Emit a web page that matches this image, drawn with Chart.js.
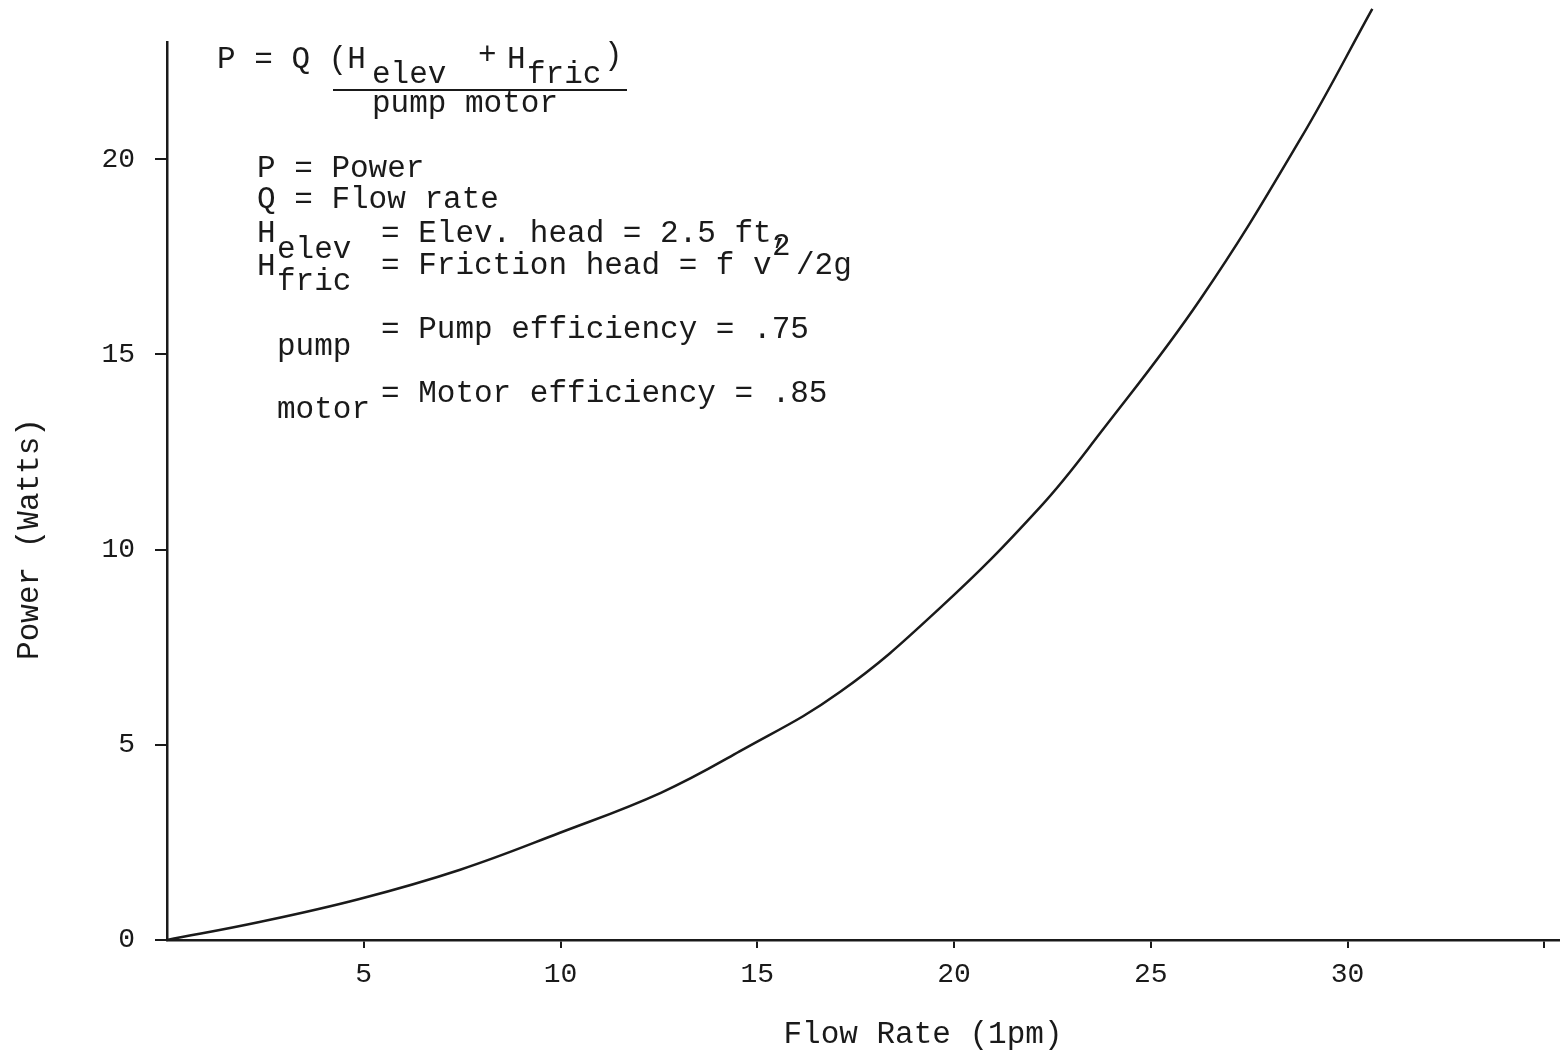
<!DOCTYPE html>
<html>
<head>
<meta charset="utf-8">
<script src="https://cdn.jsdelivr.net/npm/chart.js@4/dist/chart.umd.min.js"></script>
<style>
  body { margin: 0; background: #fff; }
  #wrap { width: 1560px; height: 1053px; }
</style>
</head>
<body>
<div id="wrap"><canvas id="power_chart" width="1560" height="1053"></canvas></div>
<script>
// flow rate (lpm) vs pump power (W)
const flowRate = [0, 2.35, 4.89, 7.45, 9.97, 12.55, 14.55, 17.1, 19.64, 22.2, 23.72, 26.26, 28.8, 30.63];
const powerWatts = [0, 0.46, 1.05, 1.8, 2.74, 3.77, 4.83, 6.35, 8.5, 11.1, 12.99, 16.41, 20.51, 23.85];

const xTickValues = [5, 10, 15, 20, 25, 30, 35];
const xTickLabels = ['5', '10', '15', '20', '25', '30', ''];
const yTickValues = [0, 5, 10, 15, 20];
const yTickLabels = ['0', '5', '10', '15', '20'];

const mono = '"Liberation Mono", "DejaVu Sans Mono", monospace';
const ink = '#1a1a1a';

// typed notes + axis titles, drawn after the chart
const notesPlugin = {
    id: 'notes',
    afterDraw(chart) {
        const c = chart.ctx;
        c.save();
        c.fillStyle = ink;
        c.strokeStyle = ink;
        c.font = '31px ' + mono;
        c.textBaseline = 'alphabetic';
        c.textAlign = 'left';
        const t = (s, x, y) => c.fillText(s, x, y);

        t('P = Q (H', 217, 68);
        t('elev', 372, 83);
        t('+', 478, 64);
        t('H', 507, 68);
        t('fric', 527, 83);
        t(')', 604, 64);
        c.lineWidth = 2;
        c.beginPath();
        c.moveTo(333, 90);
        c.lineTo(627, 90);
        c.stroke();
        t('pump motor', 372, 112);

        t('P = Power', 257, 177);
        t('Q = Flow rate', 257, 208);
        t('H', 257, 242);
        t('= Elev. head = 2.5 ft,', 381, 242);
        t('elev', 277, 258);
        t('H', 257, 275);
        t('fric', 277, 290);
        t('= Friction head = f v', 381, 274);
        t('2', 772, 255);
        t('/2g', 796, 274);
        t('= Pump efficiency = .75', 381, 338);
        t('pump', 277, 355);
        t('= Motor efficiency = .85', 381, 402);
        t('motor', 277, 418);

        c.textAlign = 'center';
        c.textBaseline = 'middle';
        t('Flow Rate (1pm)', 923, 1035);
        c.translate(30, 539);
        c.rotate(-Math.PI / 2);
        t('Power (Watts)', 0, 0);
        c.restore();
    }
};

const ctx = document.getElementById('power_chart').getContext('2d');
const myChart = new Chart(ctx, {
    type: 'line',
    data: {
        datasets: [{
            label: 'Power',
            data: flowRate.map((x, i) => ({x: x, y: powerWatts[i]})),
            borderColor: ink,
            borderWidth: 2.5,
            pointRadius: 0,
            tension: 0.4,
            clip: false
        }]
    },
    options: {
        responsive: false,
        animation: false,
        devicePixelRatio: 1,
        layout: { padding: { top: 42, right: 0, bottom: 0, left: 0 } },
        plugins: {
            legend: { display: false },
            tooltip: { enabled: false }
        },
        scales: {
            x: {
                type: 'linear',
                min: 0,
                max: 35.4,
                afterBuildTicks: (scale) => { scale.ticks = xTickValues.map(v => ({value: v})); },
                afterFit: (scale) => { scale.height = 113; },
                grid: { drawOnChartArea: false, tickLength: 8, color: ink, lineWidth: 2 },
                border: { color: ink, width: 2.5 },
                ticks: {
                    color: ink,
                    padding: 10,
                    maxRotation: 0,
                    autoSkip: false,
                    font: { family: mono, size: 28 },
                    callback: (v, i) => xTickLabels[i]
                }
            },
            y: {
                min: 0,
                max: 23,
                afterBuildTicks: (scale) => { scale.ticks = yTickValues.map(v => ({value: v})); },
                afterFit: (scale) => { scale.width = 167; },
                grid: { drawOnChartArea: false, tickLength: 12, color: ink, lineWidth: 2 },
                border: { color: ink, width: 2.5 },
                ticks: {
                    color: ink,
                    padding: 20,
                    autoSkip: false,
                    font: { family: mono, size: 28 },
                    callback: (v, i) => yTickLabels[i]
                }
            }
        }
    },
    plugins: [notesPlugin]
});
</script>
</body>
</html>
